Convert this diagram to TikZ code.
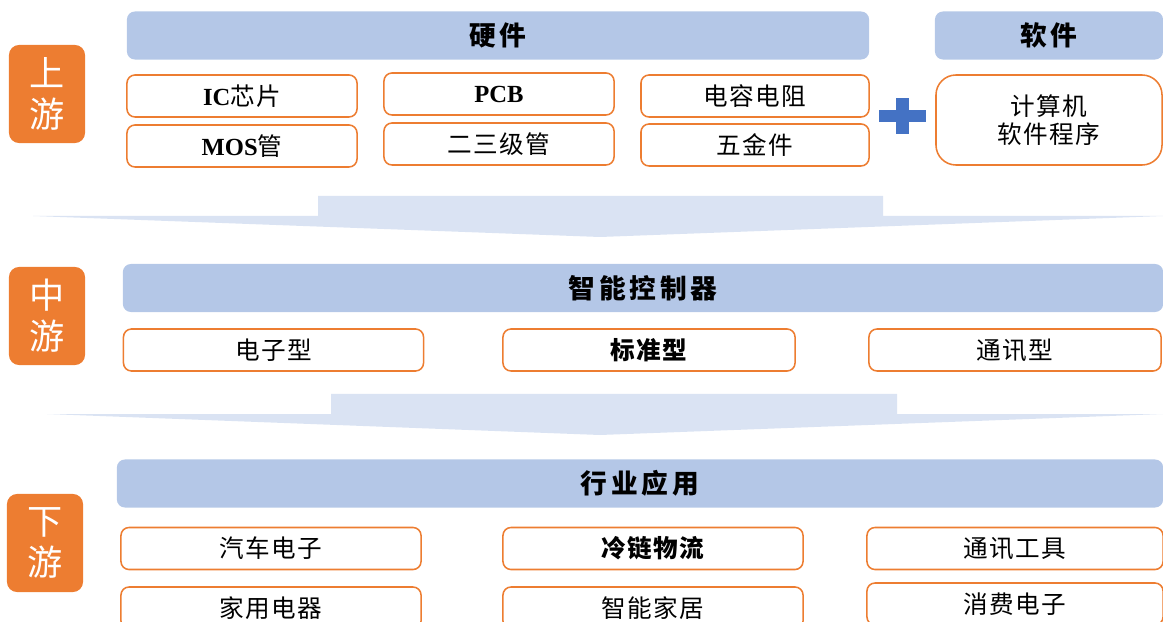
\documentclass[tikz,border=0pt]{standalone}
\usepackage{fontspec}
\setmainfont{Liberation Serif}
\newfontfamily\cjk[LetterSpace=5]{Noto Sans CJK SC}
\newfontfamily\cjkhead[LetterSpace=14]{Noto Sans CJK SC}
\usetikzlibrary{positioning}

\definecolor{chainorange}{HTML}{ED7D31}
\definecolor{barblue}{HTML}{B4C7E7}
\definecolor{flowblue}{HTML}{DAE3F3}
\definecolor{plusblue}{HTML}{4472C4}

\tikzset{
  lvlbox/.style={fill=chainorange, rounded corners=0.25cm, minimum width=1.9cm, minimum height=2.45cm,
    text=white, align=center, font=\cjk\fontsize{25}{29}\selectfont},
  hdrbar/.style={fill=barblue, rounded corners=0.2cm, minimum height=1.2cm,
    font=\cjkhead\bfseries\fontsize{19}{22}\selectfont},
  itembox/.style={draw=chainorange, line width=1.1pt, rounded corners=0.2cm, fill=white,
    minimum height=1.05cm, font=\cjk\fontsize{17.5}{20}\selectfont},
  boldtxt/.style={font=\cjk\bfseries\fontsize{17.5}{20}\selectfont}
}

\begin{document}
\begin{tikzpicture}[x=0.025cm, y=-0.025cm]
  \clip (0,0) rectangle (1163,622);

  % flow arrows
  \fill [flowblue] (33,216) -- (318,216) -- (318,196) -- (883,196) -- (883,216) -- (1163,216) -- (600,237) -- cycle;
  \fill [flowblue] (47,414) -- (331,414) -- (331,394) -- (897,394) -- (897,414) -- (1163,414) -- (600,435) -- cycle;

  % levels
  \node [lvlbox] (up) at (47,94) {上\\游};
  \node [lvlbox] (mid) at (47,316) {中\\游};
  \node [lvlbox] (down) at (45,543) {下\\游};

  % upstream
  \node [hdrbar, minimum width=18.55cm] (hw) at (498,35.5) {硬件};
  \node [hdrbar, minimum width=5.7cm] (sw) at (1049,35.5) {软件};
  \node [itembox, minimum width=5.75cm] (ic) at (242,96) {{\rmfamily\bfseries\fontsize{17.5}{20}\selectfont IC}芯片};
  \node [itembox, minimum width=5.75cm] (mos) at (242,146) {{\rmfamily\bfseries\fontsize{17.5}{20}\selectfont MOS}管};
  \node [itembox, minimum width=5.75cm] (pcb) at (499,94) {\rmfamily\bfseries\fontsize{17.5}{20}\selectfont PCB};
  \node [itembox, minimum width=5.75cm] (diode) at (499,144) {二三级管};
  \node [itembox, minimum width=5.7cm] (rc) at (755,96) {电容电阻};
  \node [itembox, minimum width=5.7cm] (metal) at (755,145) {五金件};
  \node [itembox, minimum width=5.65cm, minimum height=2.25cm, rounded corners=0.5cm, align=center,
    font=\cjk\fontsize{17.5}{19.5}\selectfont] (prog) at (1049,120) {计算机\\软件程序};
  \fill [plusblue] (879,110) rectangle (926,122);
  \fill [plusblue] (896,98) rectangle (909,134);

  % midstream
  \node [hdrbar, minimum width=26cm] (ctrl) at (643,288) {智能控制器};
  \node [itembox, minimum width=7.5cm] (elec) at (273.5,350) {电子型};
  \node [itembox, boldtxt, minimum width=7.3cm] (std) at (649,350) {标准型};
  \node [itembox, minimum width=7.3cm] (comm) at (1015,350) {通讯型};

  % downstream
  \node [hdrbar, minimum width=26.15cm] (app) at (640,483.5) {行业应用};
  \node [itembox, minimum width=7.5cm] (auto) at (271,548.5) {汽车电子};
  \node [itembox, boldtxt, minimum width=7.5cm] (cold) at (653,548.5) {冷链物流};
  \node [itembox, minimum width=7.4cm] (tool) at (1015,548.5) {通讯工具};
  \node [itembox, minimum width=7.5cm] (home) at (271,608) {家用电器};
  \node [itembox, minimum width=7.5cm] (smart) at (653,608) {智能家居};
  \node [itembox, minimum width=7.4cm] (cons) at (1015,604) {消费电子};
\end{tikzpicture}
\end{document}
